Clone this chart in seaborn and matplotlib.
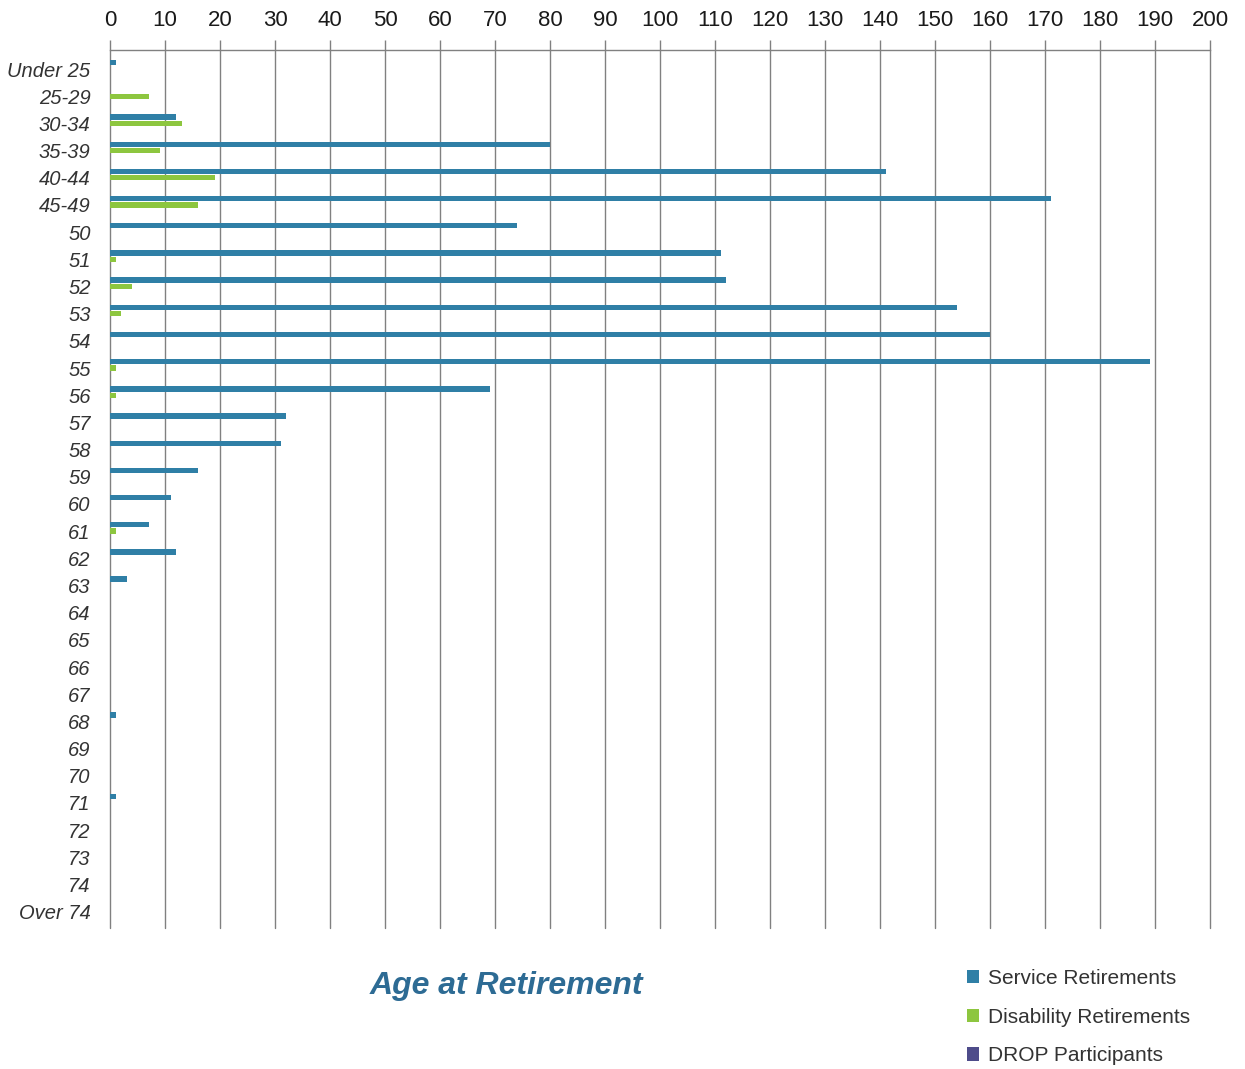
import matplotlib
matplotlib.use("Agg")
import matplotlib.pyplot as plt
import pandas as pd
import seaborn as sns

# Age bands at retirement
ages = ["Under 25", "25-29", "30-34", "35-39", "40-44", "45-49",
        "50", "51", "52", "53", "54", "55", "56", "57", "58", "59",
        "60", "61", "62", "63", "64", "65", "66", "67", "68", "69",
        "70", "71", "72", "73", "74", "Over 74"]

service = [1, 0, 12, 80, 141, 171,
           74, 111, 112, 154, 160, 189, 69, 32, 31, 16,
           11, 7, 12, 3, 0, 0, 0, 0, 1, 0,
           0, 1, 0, 0, 0, 0]

disability = [0, 7, 13, 9, 19, 16,
              0, 1, 4, 2, 0, 1, 1, 0, 0, 0,
              0, 1, 0, 0, 0, 0, 0, 0, 0, 0,
              0, 0, 0, 0, 0, 0]

drop = [0] * len(ages)

series_names = ["Service Retirements", "Disability Retirements", "DROP Participants"]
series_colors = ["#2F7FA6", "#8DC63F", "#4E4C8A"]
x_ticks = list(range(0, 201, 10))

sns.set_theme(style="white")
plt.rcParams["font.family"] = ["Liberation Sans", "DejaVu Sans"]

df = pd.DataFrame({
    "age": ages * 3,
    "count": service + disability + drop,
    "series": [series_names[0]] * len(ages) + [series_names[1]] * len(ages)
              + [series_names[2]] * len(ages),
})

fig = plt.figure(figsize=(12.45, 10.69), dpi=100)
ax = fig.add_axes([0.0884, 0.1319, 0.8835, 0.8213])

sns.barplot(data=df, y="age", x="count", hue="series", order=ages,
            hue_order=series_names, palette=series_colors, orient="h",
            width=0.7, gap=0.15, saturation=1, errorbar=None,
            linewidth=0, ax=ax)

handles, labels = ax.get_legend_handles_labels()
if ax.get_legend() is not None:
    ax.get_legend().remove()

ax.set_xlim(0, 200)
ax.set_ylim(31.6, -0.7)
ax.set_xticks(x_ticks)
ax.xaxis.tick_top()
ax.tick_params(axis="x", which="both", top=True, bottom=False, direction="out",
               length=7, width=1.0, color="#808080", pad=7, labelsize=16,
               labelcolor="#1a1a1a")
ax.tick_params(axis="y", left=False, length=0, pad=14, labelsize=14.5,
               labelcolor="#333333")
for lbl in ax.get_yticklabels():
    lbl.set_fontstyle("italic")
ax.set_xlabel("")
ax.set_ylabel("")

ax.grid(axis="x", color="#808080", linewidth=1.0)
ax.set_axisbelow(True)
for gl in ax.get_xgridlines():
    gl.set_clip_on(False)
for side in ["left", "right", "bottom"]:
    ax.spines[side].set_visible(False)
ax.spines["top"].set_color("#808080")
ax.spines["top"].set_linewidth(1.0)

fig.text(0.407, 0.0776, "Age at Retirement", ha="center", va="center",
         fontsize=23, fontweight="bold", fontstyle="italic", color="#2D6B94")

fig.legend(handles, labels, loc="upper left", bbox_to_anchor=(0.770, 0.1015),
           frameon=False, fontsize=15, handlelength=0.6, handleheight=0.6,
           handletextpad=0.4, labelspacing=0.95, borderaxespad=0,
           labelcolor="#333333")

fig.savefig("out.png", dpi=100, facecolor="white")
